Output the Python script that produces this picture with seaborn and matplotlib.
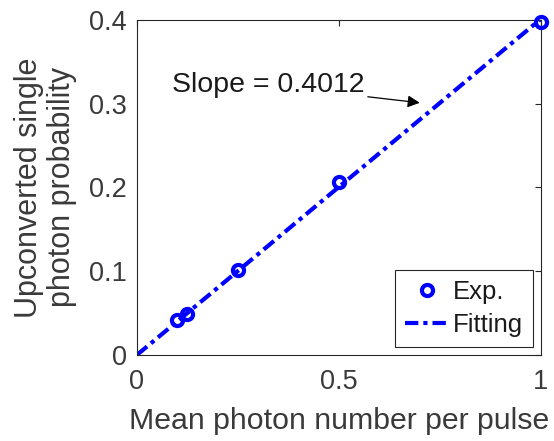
import matplotlib
matplotlib.use("Agg")
import matplotlib.pyplot as plt
import seaborn as sns
import numpy as np
import pandas as pd

# Data
mean_photon = [0.1, 0.125, 0.25, 0.5, 1.0]
prob = [0.042, 0.049, 0.102, 0.206, 0.397]
slope = 0.4012
fit_x = [0.0, 1.0]
x_ticks = [0, 0.5, 1]
x_tick_labels = ["0", "0.5", "1"]
y_ticks = [0, 0.1, 0.2, 0.3, 0.4]
y_tick_labels = ["0", "0.1", "0.2", "0.3", "0.4"]

sns.set_theme(style="white")
plt.rcParams['font.family'] = ['Liberation Sans', 'DejaVu Sans']

TXT = "#262626"
fig = plt.figure(figsize=(5.54, 4.41), dpi=100)
ax = fig.add_axes([0.247, 0.195, 0.7295, 0.76])

fit_df = pd.DataFrame({"x": fit_x, "y": [slope * v for v in fit_x]})
exp_df = pd.DataFrame({"x": mean_photon, "y": prob})

sns.lineplot(data=fit_df, x="x", y="y", ax=ax, color=(0, 0, 1), lw=3,
             linestyle=(0, (3.2, 1.2, 1, 1.2)), label="Fitting", zorder=2)
ax.plot(mean_photon, prob, linestyle="none", marker="o", markersize=8,
        markerfacecolor="none", markeredgecolor=(0, 0, 1), markeredgewidth=3,
        label="Exp.", zorder=3, clip_on=False)

ax.set_xlim(0, 1)
ax.set_ylim(0, 0.4)
ax.set_xticks(x_ticks)
ax.set_xticklabels(x_tick_labels)
ax.set_yticks(y_ticks)
ax.set_yticklabels(y_tick_labels)
ax.tick_params(direction="in", length=4, width=0.8, colors=TXT,
               labelsize=19.5, top=True, right=True)
ax.tick_params(axis="y", pad=7)
ax.tick_params(axis="x", pad=10)
for t in ax.get_xticklabels() + ax.get_yticklabels():
    t.set_color("#3a3a3a")
for s in ax.spines.values():
    s.set_color(TXT)
    s.set_linewidth(0.8)
    s.set_visible(True)

ax.set_xlabel("Mean photon number per pulse", fontsize=21.8, color="#3a3a3a", labelpad=9)
ax.set_ylabel("Upconverted single\nphoton probability", fontsize=22, color="#3a3a3a",
              labelpad=9, linespacing=1.12)

ax.annotate("Slope = 0.4012", xy=(0.70, 0.301), xytext=(0.087, 0.322),
            fontsize=20.5, color="#1a1a1a", va="center", ha="left",
            arrowprops=dict(arrowstyle="-|>", color="black", lw=0.9,
                            shrinkA=0, shrinkB=0, mutation_scale=18))

handles, labels = ax.get_legend_handles_labels()
order = [labels.index("Exp."), labels.index("Fitting")]
leg = ax.legend([handles[i] for i in order], [labels[i] for i in order],
                loc="lower right", fontsize=18.5, frameon=True, fancybox=False,
                edgecolor=TXT, framealpha=1, handlelength=1.7,
                handletextpad=0.15, borderpad=0.4, labelspacing=0.35,
                borderaxespad=0.3)
leg.get_frame().set_linewidth(0.8)
for t in leg.get_texts():
    t.set_color("#1a1a1a")

fig.savefig("out.png", dpi=100)
